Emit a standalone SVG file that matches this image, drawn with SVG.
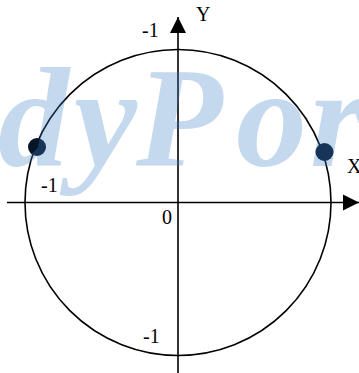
<svg xmlns="http://www.w3.org/2000/svg" width="359" height="373" viewBox="0 0 359 373">
<style>
.ax{stroke:#000;stroke-width:1.6;fill:none}
.lbl{font-family:"Liberation Serif",serif;font-size:20px;fill:#000}
.dot{fill:#061528}
.wm{font-family:"Liberation Serif",serif;font-style:italic;font-weight:bold;font-size:142px;fill:#3f7fc8;opacity:0.3}
</style>
<defs>
<marker id="arr" viewBox="0 0 10 10" refX="10" refY="5" markerWidth="16" markerHeight="17" markerUnits="userSpaceOnUse" orient="auto">
<path d="M0,0 L10,5 L0,10 Z" fill="#000"/>
</marker>
</defs>
<g id="circle"><circle cx="178" cy="202.5" r="153" class="ax"/></g>
<g id="connectors">
<line x1="7" y1="202.5" x2="359" y2="202.5" class="ax" marker-end="url(#arr)"/>
<line x1="178" y1="373" x2="178" y2="17" class="ax" marker-end="url(#arr)"/>
</g>
<g id="points">
<circle cx="37" cy="147" r="9" class="dot"/>
<circle cx="324.5" cy="152" r="9" class="dot"/>
</g>
<g id="labels">
<text x="196" y="21" class="lbl" font-size="21">Y</text>
<text x="142" y="37" class="lbl">-1</text>
<text x="347" y="173" class="lbl">X</text>
<text x="41" y="192" class="lbl">-1</text>
<text x="162" y="224" class="lbl">0</text>
<text x="143" y="343" class="lbl">-1</text>
</g>
<text x="-2 74 136 236 310" y="166" class="wm">dyPor</text>
</svg>
